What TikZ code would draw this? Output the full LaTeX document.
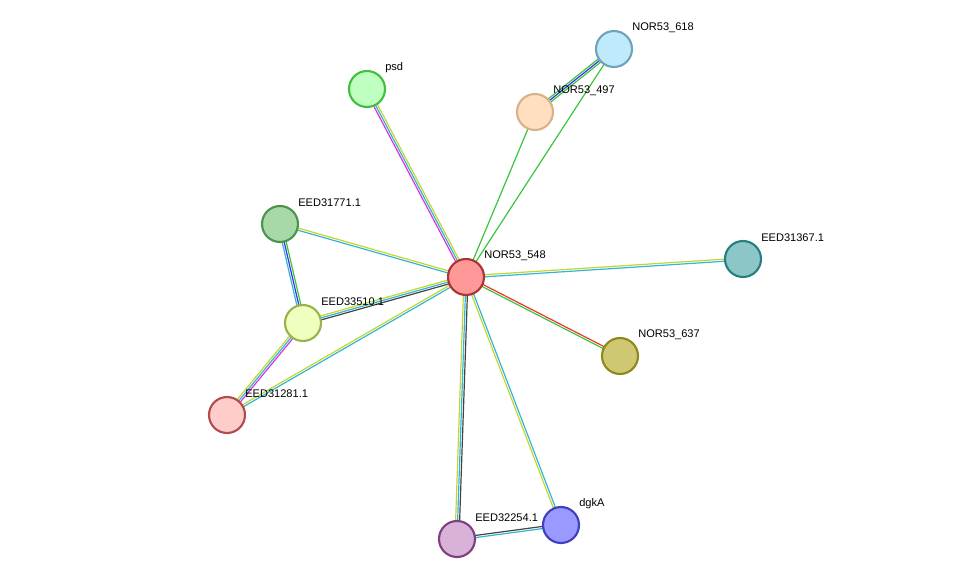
\documentclass[tikz,border=0pt]{standalone}
\usepackage{fontspec}
\setmainfont{Liberation Sans}
\usetikzlibrary{calc,backgrounds}
\definecolor{cNb}{HTML}{3DC43D}
\definecolor{cCo}{HTML}{3333EE}
\definecolor{cFu}{HTML}{EE3333}
\definecolor{cEx}{HTML}{DD33DD}
\definecolor{cDb}{HTML}{33B5D5}
\definecolor{cTm}{HTML}{C2D633}
\definecolor{cCx}{HTML}{444444}
\tikzset{
  prot/.style={circle,minimum size=27pt,inner sep=0pt,line width=1.6pt},
  lbl/.style={anchor=west,inner sep=0pt,font=\fontsize{8.3pt}{9pt}\selectfont},
}
\newcommand{\lnk}[3]{%
\foreach \c/\o in {#3}
\draw[\c,line width=0.9pt] ($(#1)!\o pt!90:(#2)$) -- ($(#2)!\o pt!-90:(#1)$);}
\newcommand{\prot}[5]{%
\node[prot,fill=#4,draw=#5] (#1) at (#2) {};
\node[lbl] (#1-l) at ($(#1)+(13.5pt,15.75pt)$) {#3};}
\begin{document}
\begin{tikzpicture}[x=0.75pt,y=-0.75pt]
\useasboundingbox (0,0) rectangle (975,585);

\prot{n548}{466,277}{NOR53\_548}{red!40!white}{red!60!black!80}
\prot{n618}{614,49}{NOR53\_618}{cyan!25!white}{cyan!40!gray}
\prot{n497}{535,112}{NOR53\_497}{orange!25!white}{brown!60!white}
\prot{psd}{367,89}{psd}{green!25!white}{green!50!gray}
\prot{e771}{280,224}{EED31771.1}{green!40!gray!50!white}{green!40!black!70}
\prot{e367}{743,259}{EED31367.1}{teal!45!white}{teal!70!gray}
\prot{e510}{303,323}{EED33510.1}{lime!25!white}{lime!40!gray}
\prot{n637}{620,356}{NOR53\_637}{olive!45!white}{olive!80!gray}
\prot{e281}{227,415}{EED31281.1}{red!20!white}{red!40!gray}
\prot{e254}{457,539}{EED32254.1}{violet!30!white}{violet!50!gray}
\prot{dgk}{561,525}{dgkA}{blue!40!white}{blue!50!gray}

\begin{pgfonlayer}{background}
\lnk{n548}{n618}{cNb/0}
\lnk{n548}{n497}{cNb/0}
\lnk{n497}{n618}{cNb/1.5,cCo/0,cNb/-1.5}
\lnk{n548}{psd}{cEx/1.5,cDb/0,cTm/-1.5}
\lnk{n548}{e771}{cDb/0.8,cTm/-0.8}
\lnk{n548}{e367}{cTm/0.8,cDb/-0.8}
\lnk{n548}{e510}{cCx/1.5,cDb/0,cTm/-1.5}
\lnk{n548}{n637}{cFu/0.8,cNb/-0.8}
\lnk{n548}{e281}{cDb/0.8,cTm/-0.8}
\lnk{n548}{e254}{cCx/1.5,cDb/0,cTm/-1.5}
\lnk{n548}{dgk}{cDb/0.8,cTm/-0.8}
\lnk{e771}{e510}{cNb/1.5,cCo/0,cDb/-1.5}
\lnk{e510}{e281}{cEx/1.5,cDb/0,cTm/-1.5}
\lnk{e254}{dgk}{cCx/0.8,cDb/-0.8}
\end{pgfonlayer}
\end{tikzpicture}
\end{document}
